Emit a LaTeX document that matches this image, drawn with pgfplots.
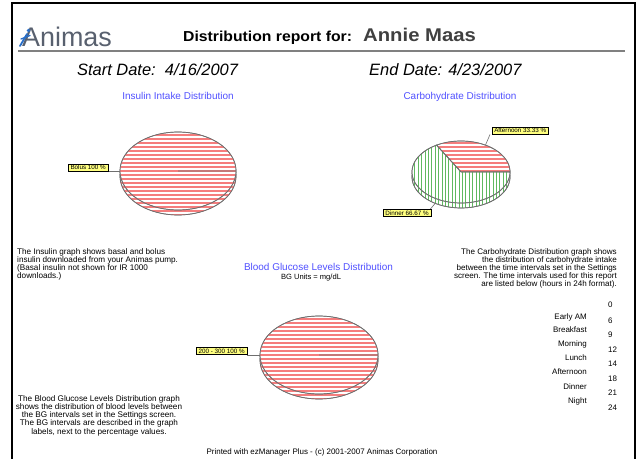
\documentclass[border=0pt]{standalone}
\usepackage{fontspec}
\setmainfont{Liberation Sans}
\usepackage{graphicx}
\usepackage{pgfplots}
\pgfplotsset{compat=1.18}
\usetikzlibrary{patterns.meta}
\definecolor{titleblue}{RGB}{80,80,255}
\definecolor{labelyellow}{RGB}{255,255,128}
\definecolor{stripered}{RGB}{245,125,125}
\definecolor{stripegreen}{RGB}{95,185,95}
\definecolor{logogray}{RGB}{88,96,110}
\definecolor{logoblue}{RGB}{40,110,200}
\definecolor{rimgray}{RGB}{110,110,110}
\newcommand{\fs}[1]{\fontsize{#1}{#1}\selectfont}
\pgfplotsset{
  pieax/.style={hide axis, anchor=origin, clip=false, xmin=-1, xmax=1, ymin=-1.2, ymax=1},
  redface/.style={draw=rimgray, line width=0.7bp, fill=white,
    postaction={pattern={Lines[angle=0,distance=4bp,line width=1.1bp]}, pattern color=stripered}},
  greenface/.style={draw=rimgray, line width=0.7bp, fill=white,
    postaction={pattern={Lines[angle=90,distance=3.4bp,line width=0.8bp]}, pattern color=stripegreen}},
}
\tikzset{lbl/.style={draw=black, line width=0.5bp, fill=labelyellow, inner xsep=2bp, inner ysep=1.2bp, font=\fs{6.3}}}
\begin{document}
\begin{tikzpicture}[x=1bp,y=-1bp]
\path[use as bounding box] (0,0) rectangle (639,459);
% frame
\draw[line width=2bp] (12,459) -- (12,3) -- (635,3) -- (635,459);
% header
\node[anchor=base west, inner sep=0, text=logogray, font=\fs{27}] at (22,47) {Animas};
\draw[logoblue, line width=1.8bp, line cap=round] (27,34) -- (20,46);
\draw[logoblue, line width=1.3bp, line cap=round] (21,39) -- (30,35.5);
\fill[logoblue] (28.5,30.5) circle (1.8);
\node[anchor=base west, inner sep=0, font=\bfseries\fs{14.5}] at (183,42) {\scalebox{1.09}[1]{Distribution report for:}};
\node[anchor=base west, inner sep=0, text=black!75, font=\bfseries\fs{18.5}] at (363,42) {\scalebox{1.1}[1]{Annie Maas}};
\draw[gray, line width=1.8bp] (18,51) -- (625,51);
\node[anchor=base west, inner sep=0, font=\itshape\fs{16.5}] at (77,76) {Start Date:\ \ 4/16/2007};
\node[anchor=base west, inner sep=0, font=\itshape\fs{16.5}] at (369,76) {End Date: 4/23/2007};
% titles
\node[anchor=base, inner sep=0, text=titleblue, font=\fs{10}] at (178,100) {Insulin Intake Distribution};
\node[anchor=base, inner sep=0, text=titleblue, font=\fs{10}] at (460,99.5) {Carbohydrate Distribution};
\node[anchor=base, inner sep=0, text=titleblue, font=\fs{10}] at (318.5,271) {Blood Glucose Levels Distribution};
\node[anchor=base, inner sep=0, font=\fs{7.6}] at (311,280) {BG Units = mg/dL};

% Insulin pie: Bolus 100 %
\begin{axis}[pieax, at={(178bp,-171bp)}, x=58bp, y=39bp]
\addplot[redface, domain=0:360, samples=91] ({cos(x)},{sin(x)-0.128});
\addplot[redface, domain=0:3.6*100, samples=91] ({cos(x)},{sin(x)}) -- (0,0) -- cycle;
\end{axis}
% Carbohydrate pie: Afternoon 33.33 %, Dinner 66.67 %
\begin{axis}[pieax, at={(461bp,-172bp)}, x=49bp, y=31bp]
\addplot[greenface, domain=0:360, samples=91] ({cos(x)},{sin(x)-0.161});
\addplot[redface, domain=0:3.6*33.33, samples=41] ({cos(x)},{sin(x)}) -- (0,0) -- cycle;
\addplot[greenface, domain=3.6*33.33:3.6*(33.33+66.67), samples=81] ({cos(x)},{sin(x)}) -- (0,0) -- cycle;
\end{axis}
% Blood glucose pie: 200 - 300 100 %
\begin{axis}[pieax, at={(319bp,-355bp)}, x=59bp, y=39bp]
\addplot[redface, domain=0:360, samples=91] ({cos(x)},{sin(x)-0.128});
\addplot[redface, domain=0:3.6*100, samples=91] ({cos(x)},{sin(x)}) -- (0,0) -- cycle;
\end{axis}

% slice labels
\draw[rimgray, line width=0.6bp] (108,171) -- (120,171);
\node[lbl, anchor=east] at (108,167.5) {Bolus 100 \%};
\draw[rimgray, line width=0.6bp] (490,134.5) -- (485.5,145);
\node[lbl, anchor=west] at (492,130.5) {Afternoon 33.33 \%};
\draw[rimgray, line width=0.6bp] (435.5,203) -- (430,209.5);
\node[lbl, anchor=east] at (431,213) {Dinner 66.67 \%};
\draw[rimgray, line width=0.6bp] (247,355) -- (260,355);
\node[lbl, anchor=east] at (247,351) {200 - 300 100 \%};

% paragraphs
\node[anchor=north west, inner sep=0, align=left, font=\fontsize{8.2}{8.2}\selectfont] at (17,248)
 {The Insulin graph shows basal and bolus\\insulin downloaded from your Animas pump.\\(Basal insulin not shown for IR 1000\\downloads.)};
\node[anchor=north east, inner sep=0, align=right, font=\fontsize{8.1}{8.2}\selectfont] at (617,248)
 {The Carbohydrate Distribution graph shows\\the distribution of carbohydrate intake\\between the time intervals set in the Settings\\screen. The time intervals used for this report\\are listed below (hours in 24h format).};
\node[anchor=north, inner sep=0, align=center, font=\fontsize{8.2}{8.3}\selectfont] at (99,395)
 {The Blood Glucose Levels Distribution graph\\shows the distribution of blood levels between\\the BG intervals set in the Settings screen.\\The BG intervals are described in the graph\\labels, next to the percentage values.};
% time intervals
\foreach \lab/\yy in {Early AM/317, Breakfast/330, Morning/344, Lunch/358, Afternoon/372, Dinner/387, Night/401}
  \node[anchor=mid east, inner sep=0, font=\fs{8}] at (587,\yy) {\lab};
\foreach \num/\yy in {0/305, 6/320.5, 9/335, 12/349.5, 14/364, 18/378.5, 21/393, 24/408}
  \node[anchor=mid west, inner sep=0, font=\fs{8}] at (608,\yy) {\num};
% footer
\node[anchor=base, inner sep=0, font=\fs{8}] at (322,454) {Printed with ezManager Plus - (c) 2001-2007 Animas Corporation};
\end{tikzpicture}
\end{document}
